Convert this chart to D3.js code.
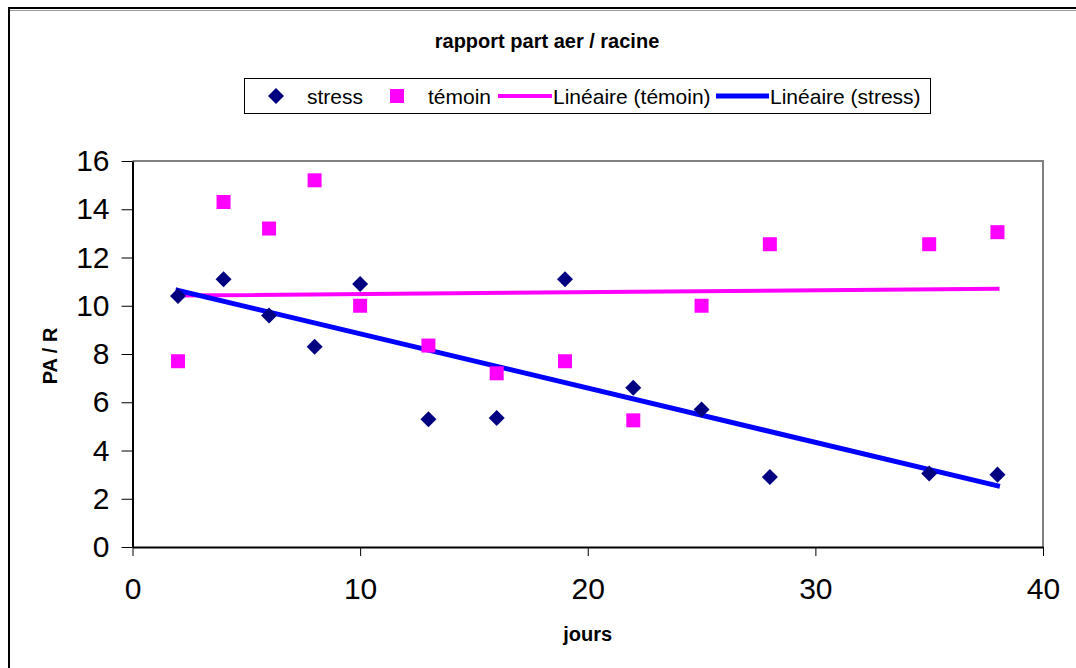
<!DOCTYPE html>
<html>
<head>
<meta charset="utf-8">
<script src="https://cdn.jsdelivr.net/npm/d3@7"></script>
<style>
  html, body { margin: 0; padding: 0; background: #fff; }
  svg { display: block; font-family: "Liberation Sans", Arial, sans-serif; }
</style>
</head>
<body>
<svg id="chart" width="1076" height="668"></svg>
<script>
// Shoot / root ratio over time
const jours = [2, 4, 6, 8, 10, 13, 16, 19, 22, 25, 28, 35, 38];
const stress = [10.4, 11.1, 9.6, 8.3, 10.9, 5.3, 5.35, 11.1, 6.6, 5.7, 2.9, 3.05, 3.0];
const temoin = [7.7, 14.3, 13.2, 15.2, 10.0, 8.35, 7.2, 7.7, 5.25, 10.0, 12.55, 12.55, 13.05];
const xTicks = [0, 10, 20, 30, 40];
const yTicks = [0, 2, 4, 6, 8, 10, 12, 14, 16];
const legendLabels = ["stress", "témoin", "Linéaire (témoin)", "Linéaire (stress)"];

const svg = d3.select("#chart");

const x = d3.scaleLinear().domain([0, 40]).range([132.5, 1043]);
const y = d3.scaleLinear().domain([0, 16]).range([547, 161]);

// outer frame
svg.append("rect").attr("x", 9).attr("y", 8).attr("width", 1200).attr("height", 800)
  .attr("fill", "none").attr("stroke", "#000").attr("stroke-width", 2);
svg.append("line").attr("x1", 10).attr("x2", 1076).attr("y1", 10.5).attr("y2", 10.5)
  .attr("stroke", "#9a9a9a").attr("stroke-width", 1);

// title
svg.append("text").attr("x", 547).attr("y", 48).attr("text-anchor", "middle")
  .attr("font-size", 20).attr("font-weight", "bold").text("rapport part aer / racine");

// plot area border (top and right)
svg.append("path")
  .attr("d", `M${x(0)},${y(16)}H${x(40)}V${y(0)}`)
  .attr("fill", "none").attr("stroke", "#808080").attr("stroke-width", 2);

// axes
const yAxis = d3.axisLeft(y).tickValues(yTicks).tickSize(11).tickSizeOuter(0).tickPadding(12);
const xAxis = d3.axisBottom(x).tickValues(xTicks).tickSize(9).tickSizeOuter(0).tickPadding(22);

const gy = svg.append("g").attr("transform", `translate(${x(0)},0)`).call(yAxis);
const gx = svg.append("g").attr("transform", `translate(0,${y(0)})`).call(xAxis);
[gx, gy].forEach(g => {
  g.selectAll("text").attr("font-size", 30).attr("font-family", "Liberation Sans, Arial, sans-serif").attr("fill", "#000");
  g.selectAll("line").attr("stroke", "#000").attr("stroke-width", 1);
  g.select(".domain").attr("stroke", "#000").attr("stroke-width", 2);
});

// axis titles
svg.append("text").attr("x", (x(0) + x(40)) / 2).attr("y", 641).attr("text-anchor", "middle")
  .attr("font-size", 20).attr("font-weight", "bold").text("jours");
svg.append("text").attr("transform", "translate(57,356) rotate(-90)").attr("text-anchor", "middle")
  .attr("font-size", 20).attr("font-weight", "bold").text("PA / R");

// least-squares trend lines
function fit(xs, ys) {
  const mx = d3.mean(xs), my = d3.mean(ys);
  let sxy = 0, sxx = 0;
  xs.forEach((v, i) => { sxy += (v - mx) * (ys[i] - my); sxx += (v - mx) * (v - mx); });
  const b = sxy / sxx, a = my - b * mx;
  const x0 = d3.min(xs), x1 = d3.max(xs);
  return [[x0, a + b * x0], [x1, a + b * x1]];
}
const line = d3.line().x(d => x(d[0])).y(d => y(d[1]));

svg.append("path").datum(fit(jours, temoin)).attr("d", line)
  .attr("fill", "none").attr("stroke", "#ff00ff").attr("stroke-width", 4).attr("stroke-linecap", "square");
svg.append("path").datum(fit(jours, stress)).attr("d", line)
  .attr("fill", "none").attr("stroke", "#0000ff").attr("stroke-width", 5).attr("stroke-linecap", "square");

// markers
const diamond = d3.symbol(d3.symbolSquare, 128);
const square = d3.symbol(d3.symbolSquare, 196);

svg.append("g").selectAll("path").data(jours).join("path")
  .attr("d", square)
  .attr("transform", (d, i) => `translate(${x(d)},${y(temoin[i])})`)
  .attr("fill", "#ff00ff");

svg.append("g").selectAll("path").data(jours).join("path")
  .attr("d", diamond)
  .attr("transform", (d, i) => `translate(${x(d)},${y(stress[i])}) rotate(45)`)
  .attr("fill", "#000080");

// legend
const lg = svg.append("g");
lg.append("rect").attr("x", 244.5).attr("y", 78.5).attr("width", 686).attr("height", 35)
  .attr("fill", "#fff").attr("stroke", "#000").attr("stroke-width", 1);
const ly = 96;
lg.append("path").attr("d", diamond).attr("transform", `translate(276,${ly}) rotate(45)`).attr("fill", "#000080");
lg.append("path").attr("d", square).attr("transform", `translate(397,${ly})`).attr("fill", "#ff00ff");
lg.append("line").attr("x1", 498).attr("x2", 552).attr("y1", ly).attr("y2", ly)
  .attr("stroke", "#ff00ff").attr("stroke-width", 4);
lg.append("line").attr("x1", 716).attr("x2", 769).attr("y1", ly).attr("y2", ly)
  .attr("stroke", "#0000ff").attr("stroke-width", 5);
const textX = [307, 428, 553, 770];
legendLabels.forEach((t, i) => {
  lg.append("text").attr("x", textX[i]).attr("y", ly + 7.5).attr("font-size", 21).text(t);
});
</script>
</body>
</html>
